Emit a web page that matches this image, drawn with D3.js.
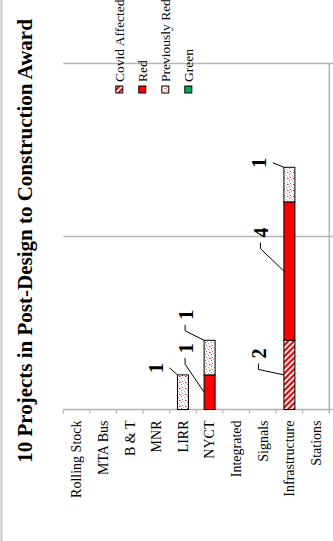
<!DOCTYPE html>
<html>
<head>
<meta charset="utf-8">
<script src="https://cdn.jsdelivr.net/npm/d3@7"></script>
<style>
  html, body { margin: 0; padding: 0; background: #fff; }
  svg { display: block; }
  text { font-family: "Liberation Serif", "Times New Roman", serif; }
</style>
</head>
<body>
<script>
// Project counts per agency / program, stacked by status
const categories = ["Rolling Stock", "MTA Bus", "B & T", "MNR", "LIRR", "NYCT",
                    "Integrated", "Signals", "Infrastructure", "Stations"];
const covidAffected = [0, 0, 0, 0, 0, 0, 0, 0, 2, 0];
const red           = [0, 0, 0, 0, 0, 1, 0, 0, 4, 0];
const previouslyRed = [0, 0, 0, 0, 1, 1, 0, 0, 1, 0];
const green         = [0, 0, 0, 0, 0, 0, 0, 0, 0, 0];
const seriesNames = ["Covid Affected", "Red", "Previously Red", "Green"];
const valueTicks = [0, 5, 10];
const titleText = "10 Projects in Post-Design to Construction Award";

// Where each value label sits relative to the point its leader line touches
const labelPlacement = [
  { category: "LIRR", series: "Previously Red", anchor: "top", dx: -22, dy: -7, leader: "side" },
  { category: "NYCT", series: "Red", anchor: "mid", dx: -18.5, dy: -44, leader: "elbow" },
  { category: "NYCT", series: "Previously Red", anchor: "top", dx: -18.5, dy: -25.5, leader: "elbow" },
  { category: "Infrastructure", series: "Covid Affected", anchor: "mid", dx: -25, dy: -21.5, leader: "elbow" },
  { category: "Infrastructure", series: "Red", anchor: "mid", dx: -23, dy: -38.5, leader: "elbow" },
  { category: "Infrastructure", series: "Previously Red", anchor: "top", dx: -25, dy: -4.5, leader: "side" }
];

const W = 333, H = 541;
const gridColor = "#b4b4b4";

const svg = d3.select("body").append("svg")
  .attr("width", W).attr("height", H);

// Fill patterns
const defs = svg.append("defs");
const hatch = defs.append("pattern")
  .attr("id", "hatch").attr("patternUnits", "userSpaceOnUse")
  .attr("width", 4).attr("height", 4)
  .attr("patternTransform", "rotate(45)");
hatch.append("rect").attr("width", 4).attr("height", 4).attr("fill", "#fff");
hatch.append("rect").attr("width", 2.2).attr("height", 4).attr("fill", "#e80000");

const dots = defs.append("pattern")
  .attr("id", "dots").attr("patternUnits", "userSpaceOnUse")
  .attr("width", 6).attr("height", 6);
dots.append("rect").attr("width", 6).attr("height", 6).attr("fill", "#fff");
[[1, 0, "#ff3030"], [4, 1, "#ff9090"], [2, 3, "#ff4040"], [5, 4, "#ff2020"],
 [0, 4, "#ff8080"], [3, 5, "#ffa0a0"], [5, 2, "#ffb8b8"], [1, 2, "#ffc8c8"]]
  .forEach(([px, py, c]) => dots.append("rect")
    .attr("x", px).attr("y", py).attr("width", 1).attr("height", 1).attr("fill", c));

const fills = {
  "Covid Affected": "url(#hatch)",
  "Red": "#ff0000",
  "Previously Red": "url(#dots)",
  "Green": "#00a650"
};

// Outer frame edge
svg.append("rect").attr("x", 0.5).attr("y", -2).attr("width", 2).attr("height", H + 4)
  .attr("fill", "#c8c8c8");

// Scales
const x = d3.scaleBand().domain(categories).range([63.3, 329.3]);
const barW = 11;
const y = d3.scaleLinear().domain([0, 10]).range([409.5, 63.5]);
const xEnd = W;

// Gridlines and axis line
svg.append("g").selectAll("line").data(valueTicks).join("line")
  .attr("x1", x.range()[0]).attr("x2", xEnd)
  .attr("y1", d => y(d)).attr("y2", d => y(d))
  .attr("stroke", gridColor).attr("stroke-width", 1.5);

// Right edge of the plot area
svg.append("line")
  .attr("x1", x.range()[1]).attr("x2", x.range()[1])
  .attr("y1", y(10)).attr("y2", y(0) + 4)
  .attr("stroke", gridColor).attr("stroke-width", 1.5);

// Category tick marks at band boundaries
const boundaries = d3.range(categories.length).map(i => x.range()[0] + i * x.step());
svg.append("g").selectAll("line").data(boundaries).join("line")
  .attr("x1", d => d).attr("x2", d => d)
  .attr("y1", y(0)).attr("y2", y(0) + 4)
  .attr("stroke", gridColor).attr("stroke-width", 1.2);

// Category labels, reading upward
svg.append("g").selectAll("text").data(categories).join("text")
  .attr("transform", d => `translate(${x(d) + x.bandwidth() / 2 + 4.8},${y(0) + 11}) rotate(-90)`)
  .attr("text-anchor", "end")
  .attr("font-size", 14)
  .attr("fill", "#000")
  .text(d => d);

// Stacked bars
const rows = categories.map((c, i) => ({
  category: c,
  "Covid Affected": covidAffected[i],
  "Red": red[i],
  "Previously Red": previouslyRed[i],
  "Green": green[i]
}));
const stacked = d3.stack().keys(seriesNames)(rows);

const barLeft = c => x(c) + x.bandwidth() / 2 - barW / 2;

svg.append("g").selectAll("g").data(stacked).join("g")
  .attr("fill", s => fills[s.key])
  .selectAll("rect").data(s => s.filter(d => d[1] > d[0])).join("rect")
  .attr("x", d => barLeft(d.data.category))
  .attr("width", barW)
  .attr("y", d => y(d[1]))
  .attr("height", d => y(d[0]) - y(d[1]))
  .attr("stroke", "#000").attr("stroke-width", 1);

// Value labels with leader lines
const segOf = (cat, ser) => {
  const s = stacked.find(k => k.key === ser);
  return s[categories.indexOf(cat)];
};
const labelsG = svg.append("g");
labelPlacement.forEach(p => {
  const seg = segOf(p.category, p.series);
  const value = seg[1] - seg[0];
  const tx = barLeft(p.category);
  const ty = p.anchor === "top" ? y(seg[1]) : y((seg[0] + seg[1]) / 2);
  const lx = tx + p.dx, ly = ty + p.dy;
  let pts;
  if (p.leader === "elbow") {
    pts = [[lx - 0.5, ly + 10], [lx - 0.5, ly + 16], [tx, ty]];
  } else {
    pts = [[lx + 14, ly], [tx, ty]];
  }
  labelsG.append("path")
    .attr("d", d3.line()(pts))
    .attr("fill", "none").attr("stroke", "#000").attr("stroke-width", 1);
  labelsG.append("text")
    .attr("transform", `translate(${lx},${ly}) rotate(-90)`)
    .attr("text-anchor", "middle")
    .attr("dominant-baseline", "central")
    .attr("font-size", 20).attr("font-weight", "bold")
    .text(value);
});

// Legend
const legendX0 = 119.3, legendStep = 23;
const lg = svg.append("g").selectAll("g").data(seriesNames).join("g")
  .attr("transform", (d, i) => `translate(${legendX0 + i * legendStep},0)`);
lg.append("rect")
  .attr("x", -3.5).attr("y", 86).attr("width", 7).attr("height", 7)
  .attr("fill", d => fills[d]).attr("stroke", "#000").attr("stroke-width", 1);
lg.append("text")
  .attr("transform", "translate(4.8,82) rotate(-90)")
  .attr("font-size", 13.5)
  .text(d => d);

// Title
svg.append("text")
  .attr("transform", "translate(31.5,241) rotate(-90)")
  .attr("text-anchor", "middle")
  .attr("font-size", 21).attr("font-weight", "bold")
  .text(titleText);
</script>
</body>
</html>
